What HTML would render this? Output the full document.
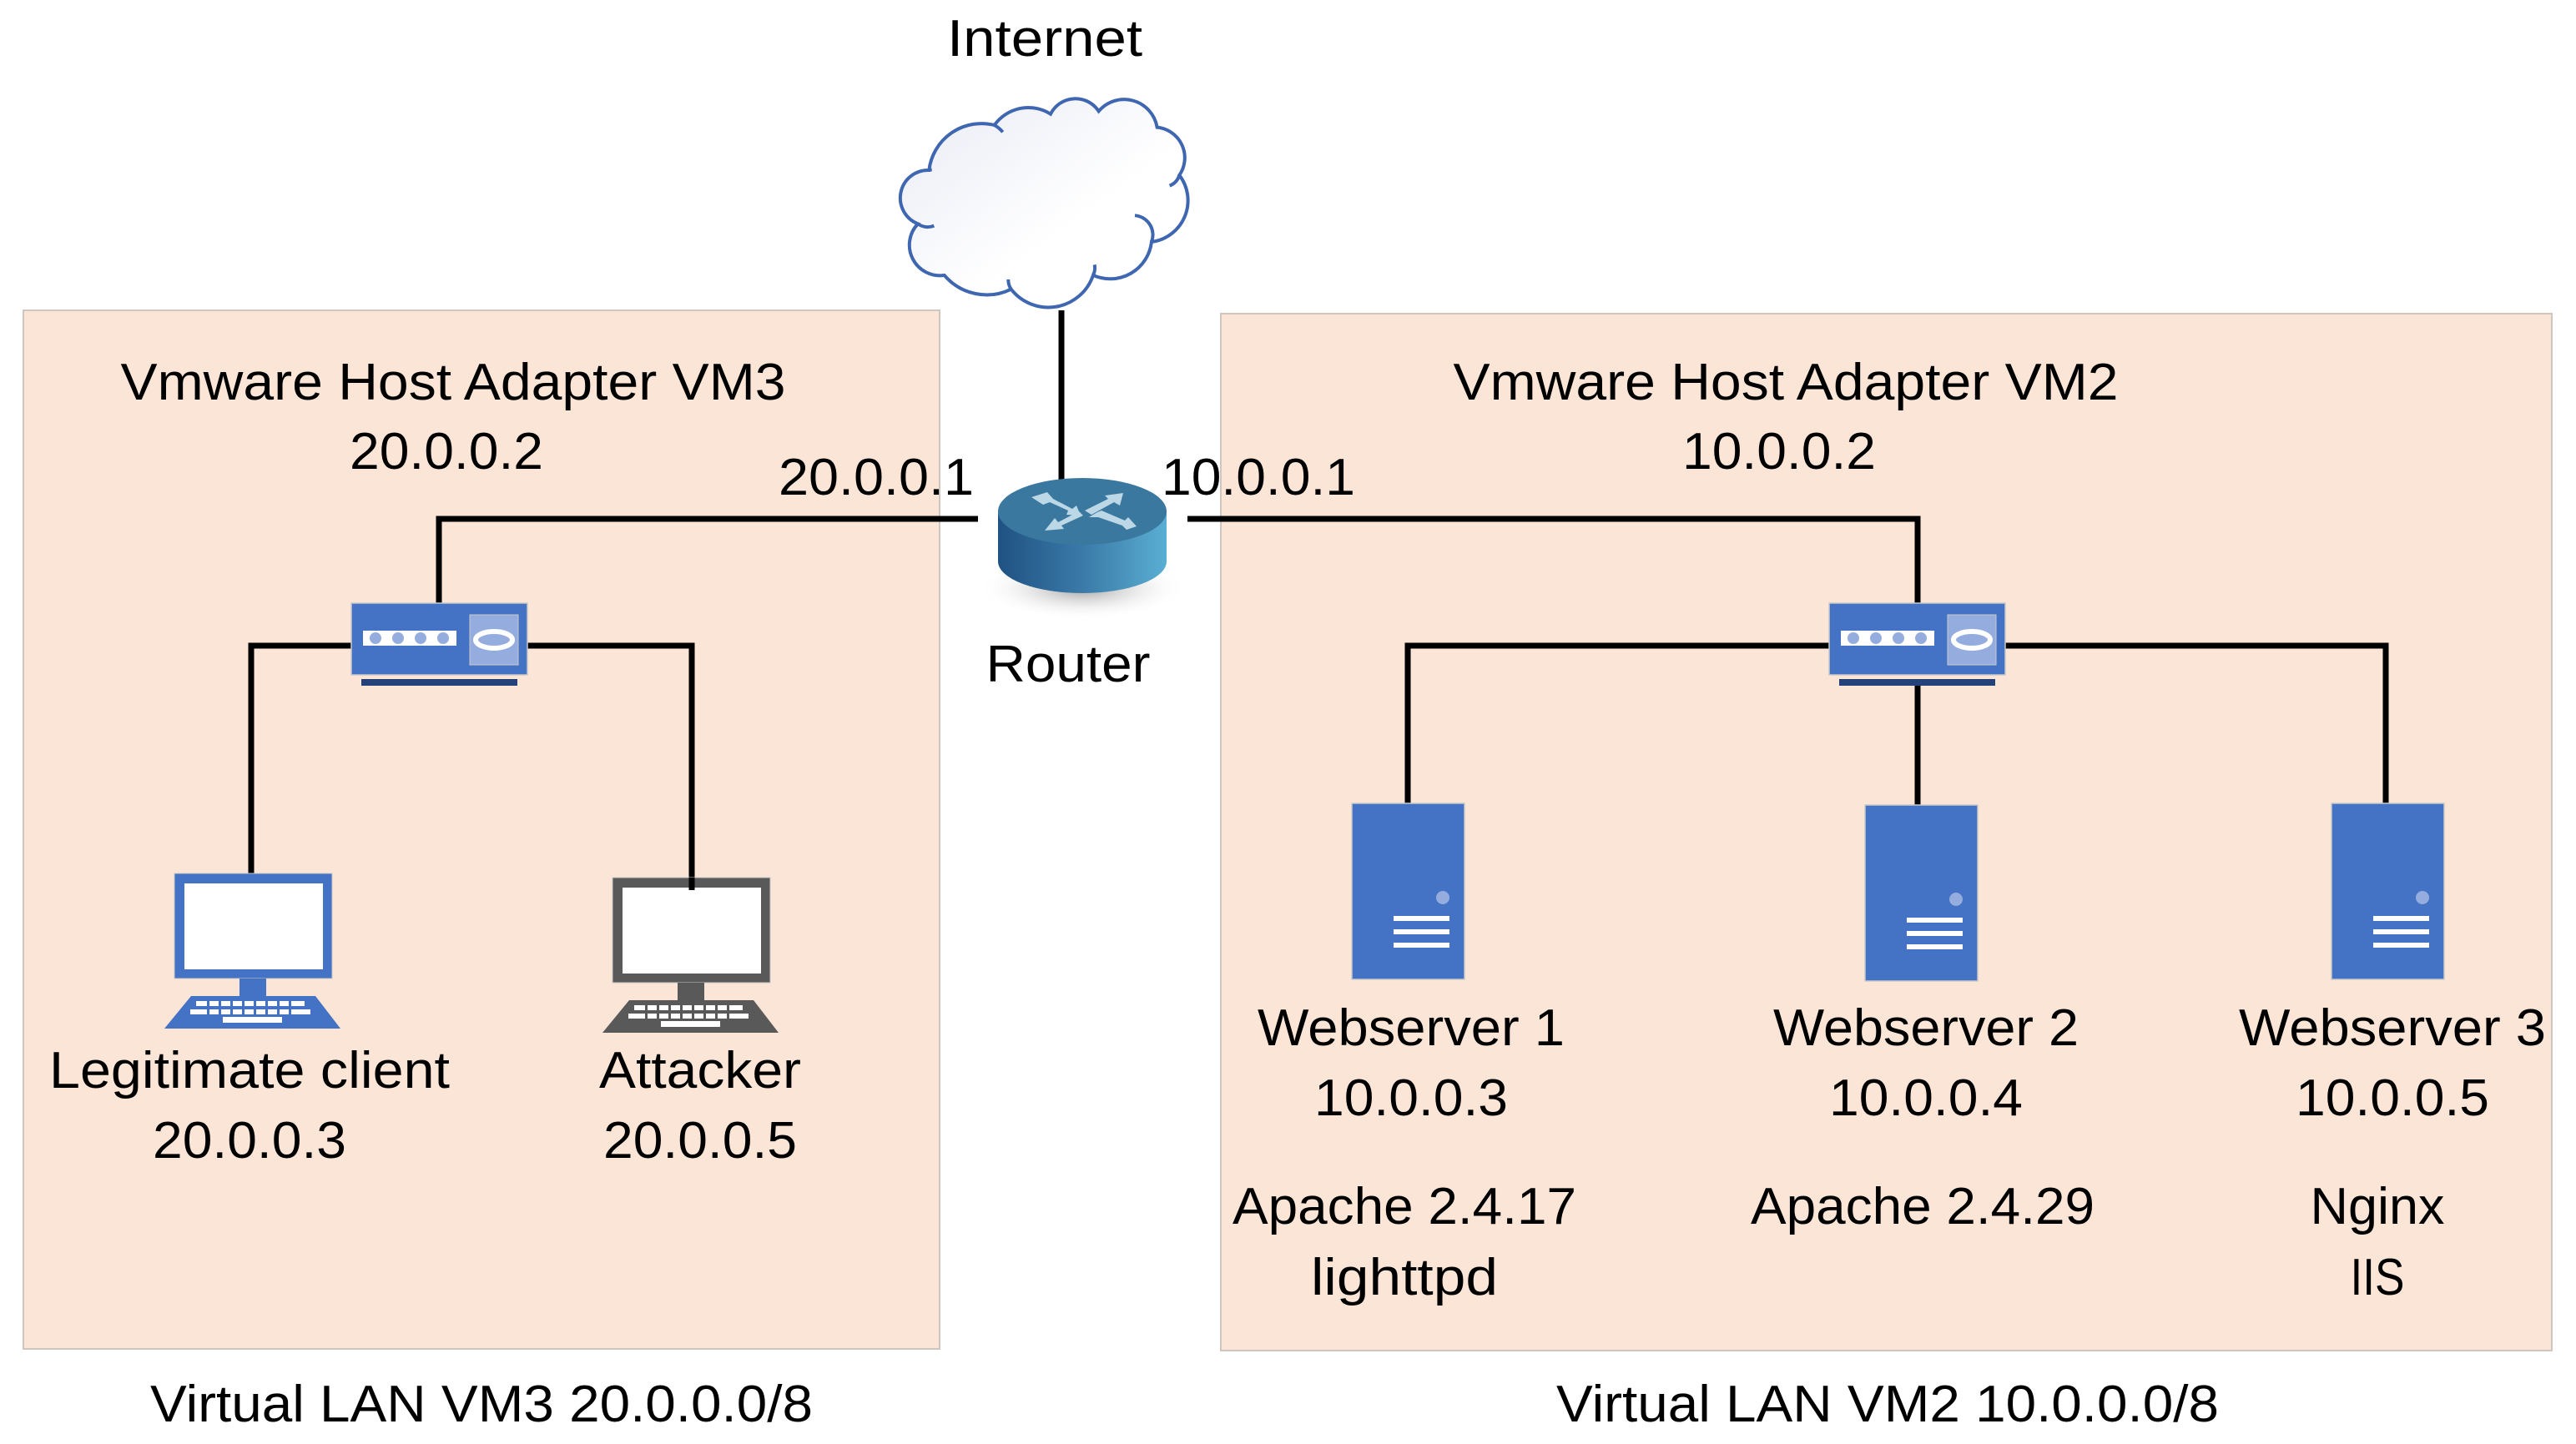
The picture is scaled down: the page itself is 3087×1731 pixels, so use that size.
<!DOCTYPE html>
<html><head><meta charset="utf-8"><style>
html,body{margin:0;padding:0;background:#fff;}
svg{display:block;}
text{font-family:"Liberation Sans",sans-serif;font-size:62px;fill:#000;}
</style></head><body>
<svg width="3087" height="1731" viewBox="0 0 3087 1731" xmlns="http://www.w3.org/2000/svg">
<defs>
<linearGradient id="rg" x1="0" x2="1" y1="0" y2="0">
<stop offset="0" stop-color="#1f5283"/><stop offset="0.5" stop-color="#3a7aa8"/><stop offset="1" stop-color="#5aaed3"/></linearGradient>
<radialGradient id="sh" cx="0.5" cy="0.5" r="0.5"><stop offset="0" stop-color="#888" stop-opacity="0.8"/><stop offset="1" stop-color="#fff" stop-opacity="0"/></radialGradient>
<linearGradient id="cg" x1="0" y1="0" x2="1" y2="1"><stop offset="0" stop-color="#e8ebf5"/><stop offset="0.6" stop-color="#fff"/></linearGradient>
<g id="sw">
<rect x="0" y="0" width="211" height="86" fill="#4472C4" stroke="#c9c9c9" stroke-width="1.5"/>
<rect x="14" y="33" width="112" height="18" fill="#fff"/>
<circle cx="29" cy="42" r="7" fill="#95ADDE"/><circle cx="56" cy="42" r="7" fill="#95ADDE"/><circle cx="83" cy="42" r="7" fill="#95ADDE"/><circle cx="110" cy="42" r="7" fill="#95ADDE"/>
<rect x="142" y="14" width="58" height="60" fill="#95ADDE" stroke="#c9c9c9" stroke-width="1"/>
<ellipse cx="171" cy="44" rx="22" ry="10" fill="none" stroke="#fff" stroke-width="6"/>
<rect x="12" y="91" width="187" height="8" fill="#24427a"/>
</g>
<g id="srv">
<rect x="0" y="0" width="135" height="211" fill="#4472C4" stroke="#c9c9c9" stroke-width="1.5"/>
<circle cx="109" cy="113" r="8" fill="#95ADDE"/>
<rect x="50" y="135" width="67" height="6" fill="#fff"/>
<rect x="50" y="151" width="67" height="6" fill="#fff"/>
<rect x="50" y="167" width="67" height="6" fill="#fff"/>
</g>
<g id="lap">
<rect x="12" y="0" width="189" height="126" fill="currentColor" stroke="#c9c9c9" stroke-width="1"/>
<rect x="24" y="12" width="166" height="103" fill="#fff"/>
<rect x="90" y="126" width="32" height="21" fill="currentColor"/>
<polygon points="32,147 181,147 211,186 0,186" fill="currentColor"/>
<g fill="#fff"><rect x="38" y="153" width="130" height="6"/><rect x="31" y="163" width="144" height="6"/><rect x="70" y="172" width="71" height="7"/></g>
<g fill="currentColor"><rect x="51" y="152" width="3" height="18"/><rect x="65" y="152" width="3" height="18"/><rect x="79" y="152" width="3" height="18"/><rect x="93" y="152" width="3" height="18"/><rect x="107" y="152" width="3" height="18"/><rect x="121" y="152" width="3" height="18"/><rect x="135" y="152" width="3" height="18"/><rect x="149" y="152" width="3" height="18"/></g>
</g>
</defs>
<rect x="28" y="372" width="1098" height="1245" fill="#FBE5D6" stroke="#d0c6c0" stroke-width="2"/>
<rect x="1463" y="376" width="1595" height="1243" fill="#FBE5D6" stroke="#d0c6c0" stroke-width="2"/>

<g transform="translate(1070,100) scale(0.3333)">
<path d="M130,312 A100,100 0 0 0 90,505 A110,110 0 0 0 185,690 A200,200 0 0 0 425,740 A170,170 0 0 0 720,690 A150,150 0 0 0 930,570 A150,150 0 0 0 1030,330 A110,110 0 0 0 950,158 A120,120 0 0 0 740,100 A100,100 0 0 0 567,110 A150,150 0 0 0 365,150 A190,190 0 0 0 130,312 Z" fill="url(#cg)" stroke="#3F66B0" stroke-width="12"/>
<path d="M130,312 A110,110 0 0 1 140,310 M365,150 A100,100 0 0 1 395,175 M1030,330 A60,60 0 0 1 995,368 M870,475 A70,70 0 0 1 930,570 M720,690 A60,60 0 0 0 725,652 M425,740 A60,60 0 0 1 415,705 M90,505 A60,60 0 0 0 148,512" fill="none" stroke="#3F66B0" stroke-width="12"/>
</g>

<g stroke="#000" stroke-width="7" fill="none">
<line x1="1272" y1="372" x2="1272" y2="578"/>
<polyline points="1172,622 526,622 526,723"/>
<polyline points="1423,622 2298,622 2298,723"/>
<polyline points="421,774 301,774 301,1047"/>
<polyline points="632,774 829,774 829,1067"/>
<polyline points="2192,774 1687,774 1687,963"/>
<polyline points="2402,774 2859,774 2859,963"/>
<line x1="2298" y1="822" x2="2298" y2="965"/>
</g>

<ellipse cx="1297" cy="705" rx="125" ry="38" fill="url(#sh)"/>
<path d="M1196,613 L1196,673 A101,38 0 0 0 1398,673 L1398,613 Z" fill="url(#rg)"/>
<ellipse cx="1297" cy="613" rx="101" ry="40" fill="#3A789F"/>
<g fill="#BCD8E6">
<polygon points="1236,596 1255,590 1262,598 1285,610 1290,606 1295,618 1278,617 1280,612 1258,602 1250,605"/>
<polygon points="1346,591 1342,606 1335,602 1308,617 1300,612 1328,598 1324,594"/>
<polygon points="1252,636 1264,621 1268,626 1293,613 1298,618 1272,630 1275,634"/>
<polygon points="1362,631 1350,635 1345,630 1316,620 1305,620 1315,614 1320,612 1348,624 1352,620"/>
</g>

<use href="#sw" x="421" y="723"/>
<use href="#sw" x="2192" y="723"/>
<use href="#srv" x="1620" y="963"/>
<use href="#srv" x="2235" y="965"/>
<use href="#srv" x="2794" y="963"/>

<use href="#lap" x="197" y="1047" color="#4472C4" style="color:#4472C4"/>
<use href="#lap" x="722" y="1052" color="#595959" style="color:#595959"/>
<line x1="829" y1="1052" x2="829" y2="1067" stroke="#000" stroke-width="7"/>

<g text-anchor="middle">
<text x="1252" y="67" textLength="234" lengthAdjust="spacingAndGlyphs">Internet</text>
<text x="543" y="479" textLength="797" lengthAdjust="spacingAndGlyphs">Vmware Host Adapter VM3</text>
<text x="535" y="562" textLength="232" lengthAdjust="spacingAndGlyphs">20.0.0.2</text>
<text x="1050" y="593" textLength="234" lengthAdjust="spacingAndGlyphs">20.0.0.1</text>
<text x="1508" y="593" textLength="232" lengthAdjust="spacingAndGlyphs">10.0.0.1</text>
<text x="1280" y="817" textLength="197" lengthAdjust="spacingAndGlyphs">Router</text>
<text x="2140" y="479" textLength="797" lengthAdjust="spacingAndGlyphs">Vmware Host Adapter VM2</text>
<text x="2132" y="562" textLength="232" lengthAdjust="spacingAndGlyphs">10.0.0.2</text>
<text x="299" y="1304" textLength="480" lengthAdjust="spacingAndGlyphs">Legitimate client</text>
<text x="299" y="1388" textLength="232" lengthAdjust="spacingAndGlyphs">20.0.0.3</text>
<text x="839" y="1304" textLength="242" lengthAdjust="spacingAndGlyphs">Attacker</text>
<text x="839" y="1388" textLength="232" lengthAdjust="spacingAndGlyphs">20.0.0.5</text>
<text x="1691" y="1253" textLength="368" lengthAdjust="spacingAndGlyphs">Webserver 1</text>
<text x="1691" y="1337" textLength="232" lengthAdjust="spacingAndGlyphs">10.0.0.3</text>
<text x="1683" y="1467" textLength="412" lengthAdjust="spacingAndGlyphs">Apache 2.4.17</text>
<text x="1683" y="1552" textLength="224" lengthAdjust="spacingAndGlyphs">lighttpd</text>
<text x="2308" y="1253" textLength="366" lengthAdjust="spacingAndGlyphs">Webserver 2</text>
<text x="2308" y="1337" textLength="232" lengthAdjust="spacingAndGlyphs">10.0.0.4</text>
<text x="2304" y="1467" textLength="412" lengthAdjust="spacingAndGlyphs">Apache 2.4.29</text>
<text x="2867" y="1253" textLength="368" lengthAdjust="spacingAndGlyphs">Webserver 3</text>
<text x="2867" y="1337" textLength="232" lengthAdjust="spacingAndGlyphs">10.0.0.5</text>
<text x="2849" y="1467" textLength="161" lengthAdjust="spacingAndGlyphs">Nginx</text>
<text x="2849" y="1552" textLength="65" lengthAdjust="spacingAndGlyphs">IIS</text>
<text x="577" y="1704" textLength="794" lengthAdjust="spacingAndGlyphs">Virtual LAN VM3 20.0.0.0/8</text>
<text x="2262" y="1704" textLength="794" lengthAdjust="spacingAndGlyphs">Virtual LAN VM2 10.0.0.0/8</text>
</g>
</svg>
</body></html>
